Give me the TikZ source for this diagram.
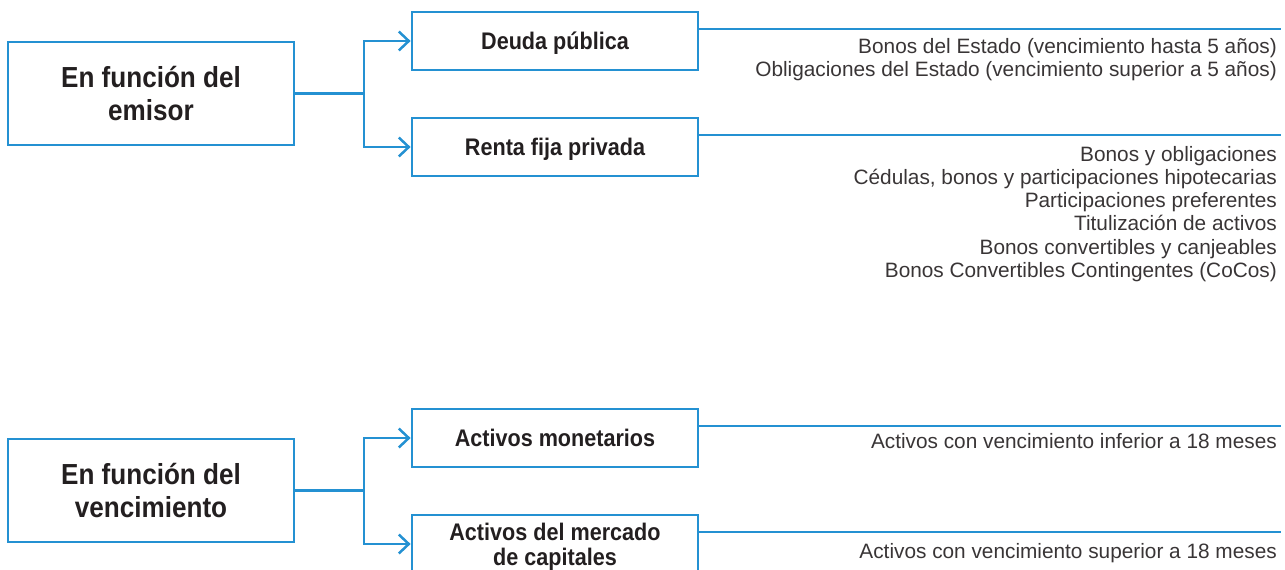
\documentclass[tikz,border=0pt]{standalone}
\usepackage{fontspec}
\setmainfont{Liberation Sans}
\newfontfamily\boxfont[FakeStretch=0.9]{Liberation Sans}
\usetikzlibrary{arrows.meta}
\definecolor{lineblue}{RGB}{36,145,210}
\definecolor{inktext}{RGB}{35,31,32}

\tikzset{
  groupbox/.style={draw=lineblue, line width=2.8pt, minimum width=286pt, minimum height=103pt, inner sep=0pt, align=center, text=inktext, font=\boxfont\bfseries\fontsize{29}{33}\selectfont},
  itembox/.style={groupbox, minimum height=58pt, text depth=0pt, font=\boxfont\bfseries\fontsize{24}{25}\selectfont},
  branch/.style={draw=lineblue, line width=2.5pt},
  leader/.style={draw=lineblue, line width=2pt},
  itemlist/.style={anchor=north east, inner sep=0pt, align=right, text=inktext!90, font=\fontsize{20.8}{23.2}\selectfont},
}

\begin{document}
\begin{tikzpicture}[x=1pt, y=-1pt]
\useasboundingbox (0, 0) rectangle (1285, 570);
\clip (0, 0) rectangle (1285, 570);

\node [groupbox] (emisor) at (151, 93.5) {En función del\\emisor};
\node [itembox] (deuda) at (555, 41) {Deuda pública};
\node [itembox] (renta) at (555, 147) {Renta fija privada};

\node [groupbox] (venc) at (151, 490.5) {En función del\\vencimiento};
\node [itembox] (monet) at (555, 438) {Activos monetarios};
\node [itembox] (capit) at (555, 544) {Activos del mercado\\de capitales};

\coordinate (emisorsplit) at (364, 93.5);
\coordinate (vencsplit) at (364, 490.5);
\draw [branch] (emisor.east) -- (emisorsplit);
\draw [branch, -{Straight Barb[length=10pt, width=19pt]}] (emisorsplit) |- (deuda.west);
\draw [branch, -{Straight Barb[length=10pt, width=19pt]}] (emisorsplit) |- (renta.west);
\draw [branch] (venc.east) -- (vencsplit);
\draw [branch, -{Straight Barb[length=10pt, width=19pt]}] (vencsplit) |- (monet.west);
\draw [branch, -{Straight Barb[length=10pt, width=19pt]}] (vencsplit) |- (capit.west);

\coordinate (deudaend) at (1281, 29);
\coordinate (rentaend) at (1281, 135);
\coordinate (monetend) at (1281, 426);
\coordinate (capitend) at (1281, 532);
\draw [leader] (deuda.east |- deudaend) -- (deudaend);
\draw [leader] (renta.east |- rentaend) -- (rentaend);
\draw [leader] (monet.east |- monetend) -- (monetend);
\draw [leader] (capit.east |- capitend) -- (capitend);

\node [itemlist] (deudaitems) at (1277, 38) {Bonos del Estado (vencimiento hasta 5 años)\\Obligaciones del Estado (vencimiento superior a 5 años)};
\node [itemlist] (rentaitems) at (1277, 146) {Bonos y obligaciones\\Cédulas, bonos y participaciones hipotecarias\\Participaciones preferentes\\Titulización de activos\\Bonos convertibles y canjeables\\Bonos Convertibles Contingentes (CoCos)};
\node [itemlist] (monetitems) at (1277, 433) {Activos con vencimiento inferior a 18 meses};
\node [itemlist] (capititems) at (1277, 543) {Activos con vencimiento superior a 18 meses};
\end{tikzpicture}
\end{document}
